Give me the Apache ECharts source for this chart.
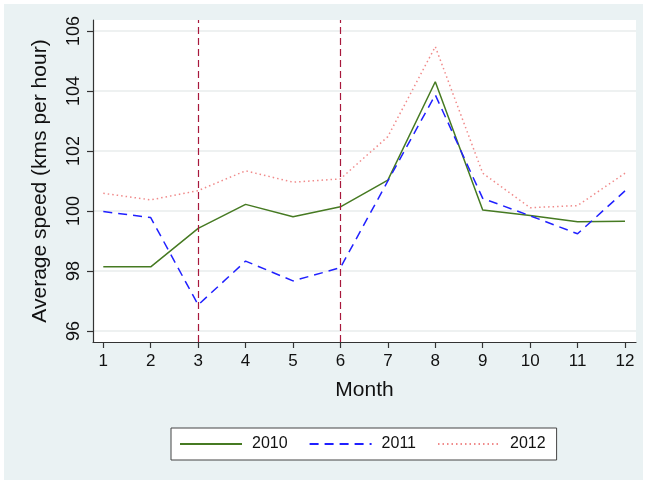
<!DOCTYPE html>
<html>
<head>
<meta charset="utf-8">
<script src="https://cdn.jsdelivr.net/npm/echarts@6/dist/echarts.min.js"></script>
<style>
html,body{margin:0;padding:0;background:#ffffff;width:647px;height:484px;overflow:hidden;}
#chart{position:absolute;left:4px;top:4px;width:639px;height:476px;background:#eaf2f3;}
</style>
</head>
<body>
<div id="chart"></div>
<script>
const months = [1,2,3,4,5,6,7,8,9,10,11,12];
const yTicks = [96,98,100,102,104,106];
const series2010 = [98.14,98.14,99.42,100.22,99.81,100.14,101.03,104.31,100.03,99.85,99.64,99.66];
const series2011 = [99.98,99.78,96.87,98.33,97.67,98.11,101.0,103.87,100.42,99.84,99.24,100.67];
const series2012 = [100.59,100.37,100.68,101.34,100.96,101.07,102.48,105.48,101.26,100.11,100.18,101.26];
const refMonths = [3,6];
const seriesNames = ['2010','2011','2012'];

const font = 'Liberation Sans, Arial, Helvetica, sans-serif';
const chart = echarts.init(document.getElementById('chart'), null, {renderer:'canvas'});

function pairs(vals){ return months.map((m,i)=>[m, vals[i]]); }

chart.setOption({
  animation:false,
  backgroundColor:'#eaf2f3',
  textStyle:{fontFamily:font},
  grid:{left:89, right:7, top:16, bottom:138, show:true, backgroundColor:'#ffffff', borderWidth:0, containLabel:false},
  xAxis:{
    type:'value', min:0.783, max:12.232,
    name:'Month', nameLocation:'middle', nameGap:38,
    nameTextStyle:{fontSize:21, color:'#111', fontFamily:font},
    axisLine:{show:true, onZero:false, lineStyle:{color:'#333', width:1.2}},
    axisTick:{show:true, length:6, customValues:months, lineStyle:{color:'#333', width:1.2}},
    axisLabel:{customValues:months, fontSize:17, color:'#111', margin:11, fontFamily:font},
    splitLine:{show:false}
  },
  yAxis:{
    type:'value', min:95.633, max:106.367,
    name:'Average speed (kms per hour)', nameLocation:'middle', nameGap:42, nameRotate:90,
    nameTextStyle:{fontSize:21, color:'#111', fontFamily:font},
    axisLine:{show:true, onZero:false, lineStyle:{color:'#333', width:1.2}},
    axisTick:{show:true, length:6, customValues:yTicks, lineStyle:{color:'#333', width:1.2}},
    axisLabel:{customValues:yTicks, rotate:90, fontSize:18, color:'#111', margin:10, fontFamily:font},
    splitLine:{show:true, lineStyle:{color:'#e8eded', width:1.5}}
  },
  legend:{
    data:seriesNames,
    left:167, top:424,
    orient:'horizontal',
    backgroundColor:'#ffffff', borderColor:'#444', borderWidth:1,
    padding:[8,11,8,8],
    itemWidth:62, itemHeight:16, itemGap:21,
    itemStyle:{opacity:0, borderWidth:0},
    textStyle:{fontSize:16, color:'#111', fontFamily:font, padding:[0,0,0,5]}
  },
  series:[
    {name:'2010', type:'line', data:pairs(series2010), symbol:'none', showSymbol:false,
     lineStyle:{color:'#467a22', width:1.5}, itemStyle:{color:'#467a22'},
     markLine:{silent:true, symbol:'none', label:{show:false},
       lineStyle:{color:'#a8183c', width:1.2, type:[7,4]},
       data:refMonths.map(m=>({xAxis:m}))}, z:3},
    {name:'2011', type:'line', data:pairs(series2011), symbol:'none', showSymbol:false,
     lineStyle:{color:'#2020ff', width:1.5, type:[9,6]}, itemStyle:{color:'#2020ff'}, z:4},
    {name:'2012', type:'line', data:pairs(series2012), symbol:'none', showSymbol:false,
     lineStyle:{color:'#f08a8a', width:1.5, type:[1.5,3]}, itemStyle:{color:'#f08a8a'}, z:2}
  ]
});
</script>
</body>
</html>
